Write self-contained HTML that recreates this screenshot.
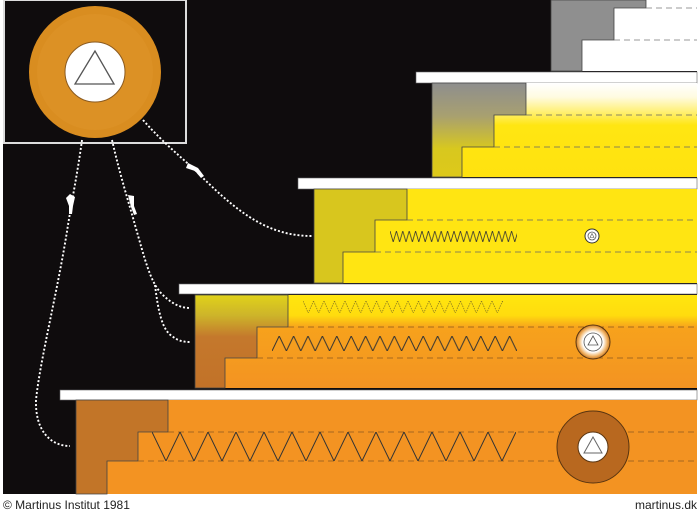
<!DOCTYPE html>
<html><head><meta charset="utf-8"><style>
html,body{margin:0;padding:0;background:#fff;}
svg{display:block;}
</style></head><body>
<svg width="700" height="515" viewBox="0 0 700 515" xmlns="http://www.w3.org/2000/svg">
<defs>
<linearGradient id="g2r" x1="0" y1="83" x2="0" y2="177" gradientUnits="userSpaceOnUse">
<stop offset="0" stop-color="#ffffff"/><stop offset="0.15" stop-color="#fffbe0"/><stop offset="0.45" stop-color="#ffe612"/><stop offset="1" stop-color="#ffe20f"/></linearGradient>
<linearGradient id="g2b" x1="0" y1="83" x2="0" y2="177" gradientUnits="userSpaceOnUse">
<stop offset="0" stop-color="#8e8e8e"/><stop offset="0.35" stop-color="#a8a070"/><stop offset="0.7" stop-color="#d8c81e"/><stop offset="1" stop-color="#ddc91a"/></linearGradient>
<linearGradient id="g4r" x1="0" y1="295" x2="0" y2="388" gradientUnits="userSpaceOnUse">
<stop offset="0" stop-color="#ffe60e"/><stop offset="0.22" stop-color="#ffdc0e"/><stop offset="0.35" stop-color="#f7a21c"/><stop offset="1" stop-color="#f39322"/></linearGradient>
<linearGradient id="g4b" x1="0" y1="295" x2="0" y2="388" gradientUnits="userSpaceOnUse">
<stop offset="0" stop-color="#e0d21a"/><stop offset="0.22" stop-color="#cdb42a"/><stop offset="0.45" stop-color="#c4782c"/><stop offset="1" stop-color="#c27228"/></linearGradient>
<radialGradient id="glow" cx="0.5" cy="0.5" r="0.5">
<stop offset="0" stop-color="#fff"/><stop offset="0.6" stop-color="#fff"/><stop offset="0.85" stop-color="#f0b060"/><stop offset="1" stop-color="#c87a28"/></radialGradient>
<pattern id="z3" x="390" y="231" width="6.4" height="11" patternUnits="userSpaceOnUse"><path d="M0,0 L3.2,11 L6.4,0" fill="none" stroke="#333" stroke-width="0.8"/></pattern>
<pattern id="z4f" x="303" y="301" width="10.5" height="12" patternUnits="userSpaceOnUse"><path d="M0,0 L5.25,12 L10.5,0" fill="none" stroke="#8a7a20" stroke-width="0.8" stroke-dasharray="1.5 1"/></pattern>
<pattern id="z4" x="272" y="336" width="14.4" height="15" patternUnits="userSpaceOnUse"><path d="M0,15 L7.2,0 L14.4,15" fill="none" stroke="#333" stroke-width="1"/></pattern>
<pattern id="z5" x="152" y="432" width="28" height="29" patternUnits="userSpaceOnUse"><path d="M0,0 L14,29 L28,0" fill="none" stroke="#333" stroke-width="1"/></pattern>
</defs>
<rect x="3" y="0" width="694" height="494" fill="#0f0c0d"/>

<!-- top box -->
<rect x="4" y="0" width="182" height="143" fill="none" stroke="#ddd" stroke-width="2"/>
<circle cx="95" cy="72" r="66" fill="#d98d20"/>
<circle cx="95" cy="72" r="58" fill="#e0962a" opacity="0.5"/>
<circle cx="95" cy="72" r="30" fill="#fff" stroke="#8a5a20"/>
<polygon points="95,51 75,84 114,84" fill="none" stroke="#555" stroke-width="1.3"/>

<!-- step 1 -->
<rect x="551" y="0" width="146" height="71" fill="#fff"/>
<path d="M551,0 H646 V8 H614 V40 H582 V71 H551 Z" fill="#8f8f8f" stroke="#444" stroke-width="0.8"/>
<g stroke="#777" stroke-width="0.8" stroke-dasharray="6 4"><line x1="646" y1="8" x2="697" y2="8"/><line x1="614" y1="40" x2="697" y2="40"/></g>
<rect x="416" y="72" width="281" height="11" fill="#fff" stroke="#666" stroke-width="0.6"/>

<!-- step 2 -->
<rect x="432" y="83" width="265" height="94" fill="url(#g2r)"/>
<path d="M432,83 H526 V115 H494 V147 H462 V177 H432 Z" fill="url(#g2b)" stroke="#444" stroke-width="0.8"/>
<g stroke="#666" stroke-width="0.8" stroke-dasharray="6 4"><line x1="526" y1="115" x2="697" y2="115"/><line x1="494" y1="147" x2="697" y2="147"/></g>
<rect x="298" y="178" width="399" height="11" fill="#fff" stroke="#666" stroke-width="0.6"/>

<!-- step 3 -->
<rect x="314" y="189" width="383" height="94" fill="#ffe512"/>
<path d="M314,189 H407 V220 H375 V252 H343 V283 H314 Z" fill="#d8c61e" stroke="#444" stroke-width="0.8"/>
<g stroke="#666" stroke-width="0.8" stroke-dasharray="6 4"><line x1="407" y1="220" x2="697" y2="220"/><line x1="375" y1="252" x2="697" y2="252"/></g>
<rect x="390" y="231" width="127" height="11" fill="url(#z3)"/>
<circle cx="592" cy="236" r="7" fill="#fff" stroke="#333"/>
<circle cx="592" cy="236" r="4" fill="none" stroke="#555" stroke-width="0.8"/>
<polygon points="592,233.5 590,237.5 594,237.5" fill="none" stroke="#555" stroke-width="0.6"/>
<rect x="179" y="284" width="518" height="10" fill="#fff" stroke="#666" stroke-width="0.6"/>

<!-- step 4 -->
<rect x="195" y="295" width="502" height="93" fill="url(#g4r)"/>
<path d="M195,295 H288 V327 H257 V358 H225 V388 H195 Z" fill="url(#g4b)" stroke="#444" stroke-width="0.8"/>
<g stroke="#8a5a20" stroke-width="0.8" stroke-dasharray="6 4"><line x1="288" y1="327" x2="697" y2="327"/><line x1="257" y1="358" x2="697" y2="358"/></g>
<rect x="303" y="301" width="200" height="12" fill="url(#z4f)"/>
<rect x="272" y="336" width="245" height="15" fill="url(#z4)"/>
<circle cx="593" cy="342" r="17" fill="url(#glow)" stroke="#5a3510" stroke-width="1"/>
<circle cx="593" cy="342" r="9" fill="none" stroke="#555" stroke-width="0.8"/>
<polygon points="593,336 588,345 598,345" fill="none" stroke="#555" stroke-width="0.8"/>
<rect x="60" y="390" width="637" height="10" fill="#fff" stroke="#666" stroke-width="0.6"/>

<!-- step 5 -->
<rect x="76" y="400" width="621" height="94" fill="#f39322"/>
<path d="M76,400 H168 V432 H138 V461 H107 V494 H76 Z" fill="#c27528" stroke="#444" stroke-width="0.8"/>
<g stroke="#8a5a20" stroke-width="0.8" stroke-dasharray="6 4"><line x1="168" y1="432" x2="697" y2="432"/><line x1="138" y1="461" x2="697" y2="461"/></g>
<rect x="152" y="432" width="364" height="29" fill="url(#z5)"/>
<circle cx="593" cy="447" r="36" fill="#b8681f" stroke="#5a3510" stroke-width="1"/>
<circle cx="593" cy="447" r="15" fill="#fff" stroke="#5a3510"/>
<polygon points="593,437 584,453 602,453" fill="none" stroke="#666" stroke-width="1"/>

<!-- connectors -->
<g fill="none" stroke="#fff" stroke-width="1.9" stroke-dasharray="2 2">
<path d="M143,120 C165,145 185,160 200,175 C240,215 270,236 312,236"/>
<path d="M112,140 C120,175 128,200 135,225 C145,260 150,280 160,292 C170,303 180,308 190,308"/>
<path d="M155,285 C158,310 162,330 172,336 C178,341 184,342 190,342"/>
<path d="M82,140 C78,170 72,200 68,225 C58,290 40,360 36,400 C35,430 50,446 70,446"/>
</g>
<g fill="#fff">
<path d="M188,163 L198,168 L204,176 L201,178 L195,171 L186,168 Z"/>
<path d="M128,195 L134,196 L134,206 L137,214 L134,215 L131,207 Z"/>
<path d="M70,194 L75,197 L73,206 L72,214 L69,214 L69,206 L66,198 Z"/>
</g>

<text x="3" y="509" font-family="Liberation Sans, sans-serif" font-size="12" fill="#222">© Martinus Institut 1981</text>
<text x="697" y="509" text-anchor="end" font-family="Liberation Sans, sans-serif" font-size="12" fill="#222">martinus.dk</text>
</svg>
</body></html>
